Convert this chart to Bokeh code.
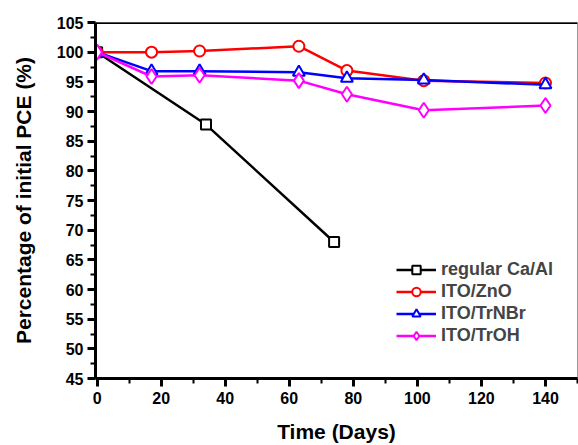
from bokeh.plotting import figure
from bokeh.models import FixedTicker, Span, Legend
from bokeh.embed import file_html
from bokeh.resources import INLINE

# Data
days_ca = [0, 34, 74]
pce_ca = [100, 87.8, 68]

days = [0, 17, 32, 63, 78, 102, 140]
pce_zno = [100, 100, 100.2, 101.0, 96.9, 95.2, 94.8]
pce_trnbr = [100, 96.8, 96.8, 96.6, 95.6, 95.3, 94.5]
pce_troh = [100, 95.9, 96.1, 95.2, 92.9, 90.2, 91.0]

labels = ["regular Ca/Al", "ITO/ZnO", "ITO/TrNBr", "ITO/TrOH"]
x_ticks = [0, 20, 40, 60, 80, 100, 120, 140]
y_ticks = [45, 50, 55, 60, 65, 70, 75, 80, 85, 90, 95, 100, 105]

FONT = "Liberation Sans"

p = figure(width=578, height=445, output_backend="svg", toolbar_location=None,
           x_range=(-0.5, 150), y_range=(45, 105),
           min_border_left=95, min_border_right=1, min_border_top=22, min_border_bottom=63)

p.xgrid.visible = False
p.ygrid.visible = False
p.outline_line_color = "#999999"
p.outline_line_width = 1

p.add_layout(Span(location=105, dimension="width", line_color="black", line_width=3))

for ax in (p.xaxis[0], p.yaxis[0]):
    ax.axis_line_width = 3
    ax.axis_line_color = "black"
    ax.major_tick_line_width = 3
    ax.minor_tick_line_width = 2
    ax.major_tick_out = 8
    ax.major_tick_in = 0
    ax.minor_tick_out = 5
    ax.minor_tick_in = 0
    ax.major_label_text_font = FONT
    ax.major_label_text_font_style = "bold"
    ax.major_label_text_font_size = "16px"
    ax.major_label_text_color = "black"
    ax.axis_label_text_font = FONT
    ax.axis_label_text_font_style = "bold"
    ax.axis_label_text_font_size = "21px"
    ax.axis_label_text_color = "black"

p.xaxis.ticker = FixedTicker(ticks=x_ticks, minor_ticks=[10, 30, 50, 70, 90, 110, 130, 150])
p.yaxis.ticker = FixedTicker(ticks=y_ticks,
                             minor_ticks=[47.5, 52.5, 57.5, 62.5, 67.5, 72.5, 77.5, 82.5,
                                          87.5, 92.5, 97.5, 102.5])
p.xaxis.axis_label = "Time (Days)"
p.yaxis.axis_label = "Percentage of initial PCE (%)"
p.xaxis.axis_label_standoff = 13
p.yaxis.axis_label_standoff = 19
p.xaxis.major_label_standoff = 5
p.yaxis.major_label_standoff = 4

series = [
    (days_ca, pce_ca, "black", "square", 10),
    (days, pce_zno, "#FF0000", "circle", 11),
    (days, pce_trnbr, "#0000FF", "triangle", 12),
    (days, pce_troh, "#FF00FF", "diamond", 15),
]

items = []
for (xs, ys, col, mk, sz), lab in zip(series, labels):
    r1 = p.line(xs, ys, line_color=col, line_width=2.5)
    r2 = p.scatter(xs, ys, marker=mk, size=sz, line_color=col, line_width=2,
                   fill_color="white")
    items.append((lab, [r1, r2]))

legend = Legend(items=items, location=(301, 32))
legend.border_line_color = None
legend.background_fill_alpha = 0
legend.label_text_font = FONT
legend.label_text_font_style = "bold"
legend.label_text_font_size = "18px"
legend.glyph_width = 40
legend.glyph_height = 21
legend.spacing = 1
legend.label_standoff = 5
legend.padding = 4
legend.margin = 0
p.add_layout(legend, "center")

open("out.html", "w").write(file_html(p, INLINE))
